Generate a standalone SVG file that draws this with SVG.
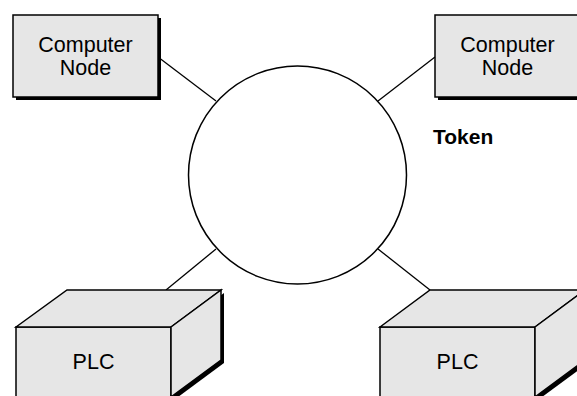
<svg xmlns="http://www.w3.org/2000/svg" width="577" height="396" viewBox="0 0 577 396">
<style>
.box{fill:#e6e6e6;stroke:#000;stroke-width:1.5;stroke-linejoin:miter}
.shadow{fill:#000;stroke:none}
.line{stroke:#000;stroke-width:1.3;fill:none}
.lbl{font-family:"Liberation Sans",Arial,sans-serif;font-size:21.5px;fill:#000;text-anchor:middle}
.bold{font-weight:bold;text-anchor:start;font-size:21px}
</style>
<rect width="577" height="396" fill="#fff"/>
<g id="connectors">
<line class="line" x1="158" y1="57" x2="216" y2="101"/>
<line class="line" x1="378" y1="101" x2="435" y2="57"/>
<line class="line" x1="216" y1="249" x2="166" y2="290"/>
<line class="line" x1="378" y1="249" x2="430" y2="290"/>
</g>
<g id="token-ring">
<circle cx="297.5" cy="175" r="109" fill="#fff" stroke="#000" stroke-width="1.5"/>
<text class="lbl bold" x="433" y="144">Token</text>
</g>
<g id="computer-node-left">
<rect class="shadow" x="16" y="18" width="145" height="82"/>
<rect class="box" x="13" y="15" width="145" height="82"/>
<text class="lbl" x="85.5" y="52">Computer</text>
<text class="lbl" x="85.5" y="75">Node</text>
</g>
<g id="computer-node-right">
<rect class="shadow" x="438" y="18" width="145" height="82"/>
<rect class="box" x="435" y="15" width="145" height="82"/>
<text class="lbl" x="507.5" y="52">Computer</text>
<text class="lbl" x="507.5" y="75">Node</text>
</g>
<g id="plc-left">
<polygon class="shadow" points="174,330 224,293 224,363 174,400"/>
<rect class="box" x="16" y="327" width="155" height="85"/>
<polygon class="box" points="16,327 67,290 221,290 171,327"/>
<polygon class="box" points="171,327 221,290 221,360 171,397"/>
<text class="lbl" x="93.5" y="369">PLC</text>
</g>
<g id="plc-right">
<polygon class="shadow" points="538,330 588,293 588,363 538,400"/>
<rect class="box" x="380" y="327" width="155" height="85"/>
<polygon class="box" points="380,327 430,290 585,290 535,327"/>
<polygon class="box" points="535,327 585,290 585,360 535,397"/>
<text class="lbl" x="457.5" y="369">PLC</text>
</g>
</svg>
